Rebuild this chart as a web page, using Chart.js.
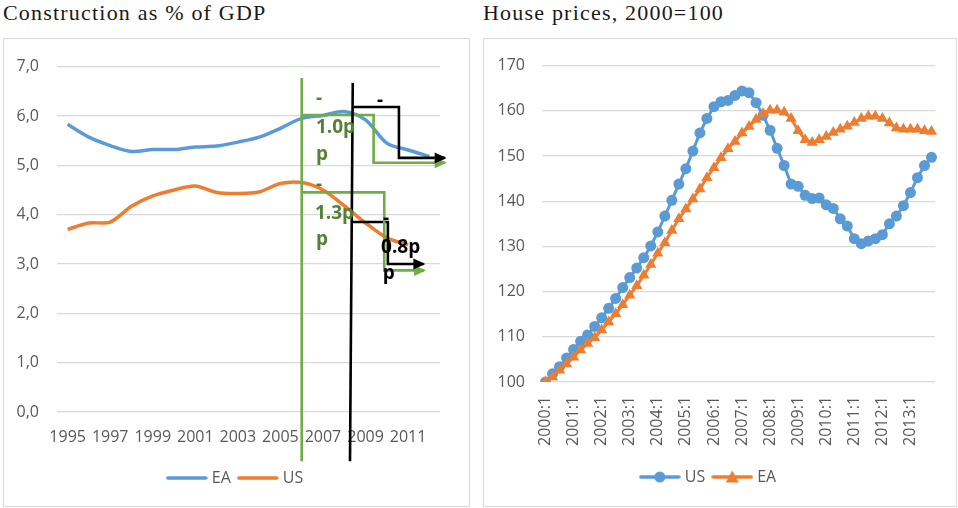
<!DOCTYPE html>
<html>
<head>
<meta charset="utf-8">
<script src="https://cdn.jsdelivr.net/npm/chart.js@4.4.0/dist/chart.umd.min.js"></script>
<style>
  body { margin: 0; background: #fff; width: 958px; height: 508px; position: relative; overflow: hidden; }
  .title { position: absolute; top: 1px; font-family: "Liberation Serif", serif; font-size: 22px; letter-spacing: 1.2px; line-height: 24px; color: #1a1a1a; white-space: nowrap; }
  .box { position: absolute; top: 38px; height: 469px; border: 1px solid #d9d9d9; box-sizing: border-box; }
</style>
</head>
<body>
<div class="title" style="left:3px">Construction as % of GDP</div>
<div class="title" style="left:483px">House prices, 2000=100</div>
<div class="box" style="left:3px;width:467px"><canvas id="constructionChart"></canvas></div>
<div class="box" style="left:483px;width:474px"><canvas id="houseChart"></canvas></div>

<script>
// Construction as % of GDP, yearly
const years = [1995, 1996, 1997, 1998, 1999, 2000, 2001, 2002, 2003, 2004, 2005, 2006, 2007, 2008, 2009, 2010, 2011, 2012];
const yearTicks = [1995, 1997, 1999, 2001, 2003, 2005, 2007, 2009, 2011];
const eaShare = [5.83, 5.57, 5.40, 5.28, 5.32, 5.32, 5.37, 5.39, 5.47, 5.57, 5.75, 5.95, 6.01, 6.09, 5.92, 5.45, 5.31, 5.18];
const usShare = [3.70, 3.83, 3.85, 4.17, 4.38, 4.50, 4.58, 4.45, 4.43, 4.46, 4.63, 4.65, 4.50, 4.18, 3.83, 3.53, 3.39, null];

// House prices, 2000=100, quarterly
const quarters = [];
for (let y = 2000; y <= 2013; y++) for (let q = 1; q <= 4; q++) quarters.push(y + ':' + q);
const usPrices = [100.0, 101.8, 103.4, 105.3, 107.2, 109.0, 110.4, 112.3, 114.2, 116.3, 118.5, 120.9, 123.1, 125.2, 127.5, 130.1,
  133.2, 136.7, 140.2, 143.8, 147.2, 151.1, 155.1, 158.3, 160.9, 162.0, 162.3, 163.4, 164.4, 164.0, 161.8, 159.0,
  155.7, 151.7, 147.9, 143.8, 143.3, 141.3, 140.6, 140.7, 139.2, 138.4, 136.1, 134.5, 131.7, 130.6, 131.2, 131.7,
  132.6, 135.0, 136.7, 139.0, 141.9, 145.2, 147.9, 149.7];
const eaPrices = [100.0, 101.1, 102.6, 104.0, 105.5, 107.1, 108.5, 109.8, 111.5, 113.3, 115.1, 117.1, 119.2, 121.3, 123.6, 126.0,
  128.5, 130.8, 133.5, 136.1, 138.3, 140.5, 142.7, 145.2, 147.4, 149.6, 151.6, 153.2, 155.1, 156.5, 158.1, 159.4,
  160.1, 160.1, 159.7, 158.3, 155.6, 153.6, 153.0, 153.6, 154.3, 155.2, 155.9, 156.6, 157.4, 158.3, 158.8, 158.8,
  158.3, 157.3, 156.2, 155.9, 155.9, 155.9, 155.6, 155.4];

// annotation paths on the construction chart, [year, % of GDP]
const greenStart = [[2006, 6.77], [2006, -1.0]];
const blackStart = [[2008.40, 6.67], [2008.27, -1.0]];
const greenEA = [[2006, 6.02], [2009.38, 6.02], [2009.38, 5.05], [2012.72, 5.05]];
const blackEA = [[2008.36, 6.18], [2010.57, 6.18], [2010.57, 5.15], [2012.72, 5.15]];
const greenUS = [[2006, 4.45], [2009.88, 4.45], [2009.88, 2.87], [2011.75, 2.87]];
const blackUS = [[2008.31, 3.85], [2010.05, 3.85], [2010.05, 3.0], [2011.72, 3.0]];

const BLUE = '#5B9BD5';
const ORANGE = '#ED7D31';
const GREEN = '#70AD47';
const GREEN_TEXT = '#548235';
const GRID = '#D9D9D9';
const TEXT = '#595959';

// wrapped text boxes ("-1.0pp" etc.)
const notes = [
  { text: '-', at: [2006.67, 6.24], color: GREEN_TEXT },
  { text: '1.0p', at: [2006.67, 5.66], color: GREEN_TEXT },
  { text: 'p', at: [2006.67, 5.10], color: GREEN_TEXT },
  { text: '-', at: [2006.67, 4.50], color: GREEN_TEXT },
  { text: '1.3p', at: [2006.62, 3.92], color: GREEN_TEXT },
  { text: 'p', at: [2006.67, 3.38], color: GREEN_TEXT },
  { text: '-', at: [2009.54, 6.20], color: '#000' },
  { text: '-', at: [2009.82, 3.81], color: '#000' },
  { text: '0.8p', at: [2009.73, 3.22], color: '#000' },
  { text: 'p', at: [2009.81, 2.70], color: '#000' }
];

Chart.defaults.font.family = "'Open Sans', sans-serif";
Chart.defaults.font.size = 16;
Chart.defaults.color = TEXT;
Chart.defaults.animation = false;

const toPoints = path => path.map(p => ({ x: p[0], y: p[1] }));

function pathDataset(path, color, arrow) {
  return {
    label: '',
    data: toPoints(path),
    borderColor: color,
    backgroundColor: color,
    borderWidth: 2.6,
    pointRadius: 0,
    tension: 0,
    clip: false,
    order: 0,
    arrow: arrow
  };
}

const annotations = {
  id: 'annotations',
  afterDatasetsDraw(chart) {
    const ctx = chart.ctx;
    chart.data.datasets.forEach((ds, i) => {
      if (!ds.arrow) return;
      const pts = chart.getDatasetMeta(i).data;
      const a = pts[pts.length - 2], b = pts[pts.length - 1];
      ctx.save();
      ctx.fillStyle = ds.borderColor;
      ctx.translate(b.x, b.y);
      ctx.rotate(Math.atan2(b.y - a.y, b.x - a.x));
      ctx.beginPath();
      ctx.moveTo(2, 0);
      ctx.lineTo(-10, -5.5);
      ctx.lineTo(-10, 5.5);
      ctx.closePath();
      ctx.fill();
      ctx.restore();
    });
    const xs = chart.scales.x, ys = chart.scales.y;
    ctx.save();
    ctx.font = "bold 19px 'Open Sans', sans-serif";
    ctx.textBaseline = 'alphabetic';
    notes.forEach(n => {
      ctx.fillStyle = n.color;
      ctx.fillText(n.text, xs.getPixelForValue(n.at[0]), ys.getPixelForValue(n.at[1]));
    });
    ctx.restore();
  }
};

// legend sample: thick line, optionally with a marker in the middle
function legendIcon(color, style) {
  const c = document.createElement('canvas');
  c.width = 42;
  c.height = 14;
  const g = c.getContext('2d');
  g.strokeStyle = color;
  g.fillStyle = color;
  g.lineWidth = 3.5;
  g.lineCap = 'round';
  g.beginPath();
  g.moveTo(2, 7);
  g.lineTo(40, 7);
  g.stroke();
  g.beginPath();
  if (style === 'circle') {
    g.arc(21, 7, 5.5, 0, Math.PI * 2);
  } else if (style === 'triangle') {
    g.moveTo(21, 0.5);
    g.lineTo(27.5, 12.5);
    g.lineTo(14.5, 12.5);
    g.closePath();
  }
  g.fill();
  return c;
}

// empty right-hand axis, keeps the plot narrow but the legend centred
const spacer = w => ({
  position: 'right',
  grid: { display: false, drawTicks: false },
  border: { display: false },
  ticks: { display: false },
  afterFit: s => { s.width = w; }
});

// x axis with a fixed height and no extra side padding for its labels
const fixHeight = h => s => {
  s.height = h;
  s.paddingLeft = 0;
  s.paddingRight = 0;
};

// Construction as % of GDP
const constructionCtx = document.getElementById('constructionChart');
if (constructionCtx) {
  const icons = [legendIcon(BLUE, 'line'), legendIcon(ORANGE, 'line')];
  new Chart(constructionCtx, {
    type: 'line',
    data: {
      datasets: [
        {
          label: 'EA',
          data: years.map((y, i) => ({ x: y, y: eaShare[i] })),
          borderColor: BLUE,
          backgroundColor: BLUE,
          borderWidth: 3.5,
          pointRadius: 0,
          tension: 0.3,
          order: 1
        },
        {
          label: 'US',
          data: years.map((y, i) => ({ x: y, y: usShare[i] })),
          borderColor: ORANGE,
          backgroundColor: ORANGE,
          borderWidth: 3.5,
          pointRadius: 0,
          tension: 0.3,
          order: 1
        },
        pathDataset(greenStart, GREEN, false),
        pathDataset(blackStart, '#000', false),
        pathDataset(greenEA, GREEN, true),
        pathDataset(blackEA, '#000', true),
        pathDataset(greenUS, GREEN, true),
        pathDataset(blackUS, '#000', true)
      ]
    },
    options: {
      responsive: true,
      maintainAspectRatio: false,
      layout: { padding: { top: 23, right: 0, bottom: 10, left: 0 } },
      scales: {
        x: {
          type: 'linear',
          min: 1994.5,
          max: 2012.5,
          grid: { display: false, drawTicks: false },
          border: { display: false },
          afterBuildTicks: s => { s.ticks = yearTicks.map(v => ({ value: v })); },
          afterFit: fixHeight(48),
          ticks: { padding: 16, autoSkip: false, maxRotation: 0, callback: v => String(v) }
        },
        y: {
          min: 0,
          max: 7,
          grid: { color: GRID, lineWidth: 1.2, drawTicks: false },
          border: { display: false },
          afterFit: s => { s.width = 53; },
          ticks: { stepSize: 1, padding: 18, callback: v => v.toFixed(1).replace('.', ',') }
        },
        pad: spacer(29)
      },
      plugins: {
        tooltip: { enabled: false },
        legend: {
          position: 'bottom',
          labels: {
            usePointStyle: true,
            pointStyleWidth: 34,
            padding: 10,
            filter: item => item.text !== '',
            sort: (a, b) => a.datasetIndex - b.datasetIndex,
            generateLabels: chart => Chart.defaults.plugins.legend.labels.generateLabels(chart)
              .map(item => Object.assign(item, { pointStyle: icons[item.datasetIndex] || 'line' }))
          }
        }
      }
    },
    plugins: [annotations]
  });
}

// House prices
const houseCtx = document.getElementById('houseChart');
if (houseCtx) {
  const icons = [legendIcon(BLUE, 'circle'), legendIcon(ORANGE, 'triangle')];
  new Chart(houseCtx, {
    type: 'line',
    data: {
      labels: quarters,
      datasets: [
        {
          label: 'US',
          data: usPrices,
          borderColor: BLUE,
          backgroundColor: BLUE,
          borderWidth: 3,
          pointStyle: 'circle',
          pointRadius: 5.5,
          pointBorderWidth: 0,
          order: 1
        },
        {
          label: 'EA',
          data: eaPrices,
          borderColor: ORANGE,
          backgroundColor: ORANGE,
          borderWidth: 3,
          pointStyle: 'triangle',
          pointRadius: 6.5,
          pointBorderWidth: 0,
          order: 0
        }
      ]
    },
    options: {
      responsive: true,
      maintainAspectRatio: false,
      layout: { padding: { top: 23, right: 21, bottom: 11, left: 0 } },
      scales: {
        x: {
          offset: true,
          grid: { display: false, drawTicks: false },
          border: { display: false },
          afterFit: fixHeight(77),
          ticks: {
            autoSkip: false,
            minRotation: 90,
            maxRotation: 90,
            padding: 14,
            callback: function (v, i) { return i % 4 === 0 ? this.getLabelForValue(v) : ''; }
          }
        },
        y: {
          min: 100,
          max: 170,
          grid: { color: GRID, lineWidth: 1.2, drawTicks: false },
          border: { display: false },
          afterFit: s => { s.width = 58; },
          ticks: { stepSize: 10, padding: 17 }
        }
      },
      plugins: {
        tooltip: { enabled: false },
        legend: {
          position: 'bottom',
          labels: {
            usePointStyle: true,
            pointStyleWidth: 34,
            padding: 10,
            sort: (a, b) => a.datasetIndex - b.datasetIndex,
            generateLabels: chart => Chart.defaults.plugins.legend.labels.generateLabels(chart)
              .map(item => Object.assign(item, { pointStyle: icons[item.datasetIndex] }))
          }
        }
      }
    }
  });
}
</script>
</body>
</html>
